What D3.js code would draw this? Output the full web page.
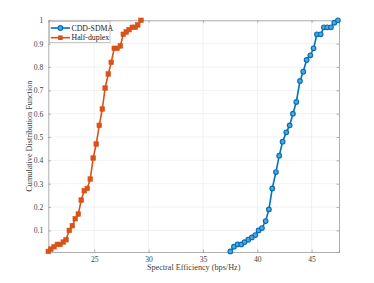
<!DOCTYPE html>
<html><head><meta charset="utf-8">
<script src="https://cdn.jsdelivr.net/npm/d3@7"></script>
<style>body{margin:0;background:#fff}svg{display:block}</style>
</head><body>
<svg id="c" width="374" height="283"></svg>
<script>
const hdX = [20.77,21.0,21.3,21.6,21.84,22.15,22.4,22.7,22.98,23.25,23.53,23.8,24.08,24.36,24.63,24.9,25.18,25.46,25.74,26.0,26.29,26.56,26.84,27.1,27.4,27.67,27.94,28.2,28.5,28.77,29.0,29.3];
const hdY = [0.01,0.02,0.03,0.04,0.04,0.05,0.06,0.10,0.12,0.15,0.17,0.23,0.27,0.28,0.32,0.41,0.47,0.55,0.62,0.71,0.77,0.82,0.88,0.88,0.89,0.94,0.95,0.96,0.97,0.97,0.98,1.00];
const cddX = [37.52,37.85,38.19,38.53,38.83,39.17,39.5,39.82,40.12,40.43,40.77,41.07,41.38,41.72,42.02,42.33,42.67,42.98,43.28,43.59,43.93,44.23,44.54,44.88,45.18,45.49,45.83,46.13,46.44,46.78,47.09,47.42];
const cddY = [0.01,0.03,0.04,0.04,0.05,0.06,0.07,0.08,0.10,0.11,0.14,0.19,0.28,0.35,0.42,0.48,0.52,0.55,0.60,0.65,0.74,0.78,0.83,0.85,0.88,0.94,0.94,0.97,0.97,0.97,0.99,1.00];
const xTicks = [25,30,35,40,45];
const yTicks = [0.1,0.2,0.3,0.4,0.5,0.6,0.7,0.8,0.9,1];
const seriesNames = ["CDD-SDMA","Half-duplex"];
const colors = ["#0072BD","#D95319"];
const xLabel = "Spectral Efficiency (bps/Hz)";
const yLabel = "Cumulative Distribution Function";

const L=48.3,R=339,T=20.3,B=252;
const font = "'Liberation Serif','Times New Roman',serif";
const x = d3.scaleLinear().domain([20.77,47.52]).range([L,R]);
const y = d3.scaleLinear().domain([0.0075,1]).range([B,T]);
const svg = d3.select("#c");

// grid
svg.append("g").selectAll("line").data(xTicks).join("line")
  .attr("x1",d=>x(d)).attr("x2",d=>x(d)).attr("y1",T).attr("y2",B)
  .attr("stroke","#ececec").attr("stroke-width",0.7);
svg.append("g").selectAll("line").data(yTicks).join("line")
  .attr("x1",L).attr("x2",R).attr("y1",d=>y(d)).attr("y2",d=>y(d))
  .attr("stroke","#ececec").attr("stroke-width",0.7);

// axes
const axB = svg.append("g").attr("transform",`translate(0,${B})`)
  .call(d3.axisBottom(x).tickValues(xTicks).tickSize(-2.5).tickPadding(5).tickFormat(d3.format("d")));
const axT = svg.append("g").attr("transform",`translate(0,${T})`)
  .call(d3.axisTop(x).tickValues(xTicks).tickSize(-2.5).tickFormat(""));
const axL = svg.append("g").attr("transform",`translate(${L},0)`)
  .call(d3.axisLeft(y).tickValues(yTicks).tickSize(-2.5).tickPadding(5).tickFormat(d=>d===1?"1":d3.format(".1f")(d)));
const axR = svg.append("g").attr("transform",`translate(${R},0)`)
  .call(d3.axisRight(y).tickValues(yTicks).tickSize(-2.5).tickFormat(""));
[axB,axT,axL,axR].forEach(a=>{
  a.select(".domain").attr("stroke","#9a9a9a").attr("stroke-width",0.8);
  a.selectAll(".tick line").attr("stroke","#9a9a9a").attr("stroke-width",0.8);
  a.selectAll("text").attr("fill","#404040").attr("font-family",font).attr("font-size",7.6);
});

// labels
svg.append("text").attr("x",(L+R)/2).attr("y",270).attr("text-anchor","middle")
  .attr("font-family",font).attr("font-size",8.2).attr("fill","#404040").text(xLabel);
svg.append("text").attr("transform",`translate(32,${(T+B)/2}) rotate(-90)`).attr("text-anchor","middle")
  .attr("font-family",font).attr("font-size",8.2).attr("fill","#404040").text(yLabel);

const line = d3.line().x(d=>x(d[0])).y(d=>y(d[1]));
const cdd = cddX.map((v,i)=>[v,cddY[i]]);
const hd = hdX.map((v,i)=>[v,hdY[i]]);

function drawSeries(data,color,shape){
  svg.append("path").datum(data).attr("d",line).attr("fill","none")
    .attr("stroke",color).attr("stroke-width",1.6);
  if(shape==="circle"){
    svg.append("g").selectAll("circle").data(data).join("circle")
      .attr("cx",d=>x(d[0])).attr("cy",d=>y(d[1])).attr("r",2.3)
      .attr("fill","#5fa3d6").attr("stroke",color).attr("stroke-width",1.2);
  } else {
    svg.append("g").selectAll("rect").data(data).join("rect")
      .attr("x",d=>x(d[0])-2.3).attr("y",d=>y(d[1])-2.3).attr("width",4.6).attr("height",4.6)
      .attr("fill",color).attr("stroke",color).attr("stroke-width",0.6);
  }
}
drawSeries(cdd,colors[0],"circle");
drawSeries(hd,colors[1],"square");

// legend
const lg = svg.append("g");
lg.append("rect").attr("x",49.5).attr("y",21.5).attr("width",60.5).attr("height",21)
  .attr("fill","#fff").attr("stroke","#b0b0b0").attr("stroke-width",0.7);
seriesNames.forEach((n,i)=>{
  const yy = 28 + i*9.7;
  lg.append("line").attr("x1",50.8).attr("x2",70).attr("y1",yy).attr("y2",yy)
    .attr("stroke",colors[i]).attr("stroke-width",1.6);
  if(i===0){
    lg.append("circle").attr("cx",60.4).attr("cy",yy).attr("r",2.3)
      .attr("fill","#5fa3d6").attr("stroke",colors[i]).attr("stroke-width",1.2);
  } else {
    lg.append("rect").attr("x",58.1).attr("y",yy-2.3).attr("width",4.6).attr("height",4.6)
      .attr("fill",colors[i]);
  }
  lg.append("text").attr("x",71.5).attr("y",yy).attr("dy","0.35em")
    .attr("font-family",font).attr("font-size",7.8).attr("fill","#202020").text(n);
});
</script>
</body></html>
